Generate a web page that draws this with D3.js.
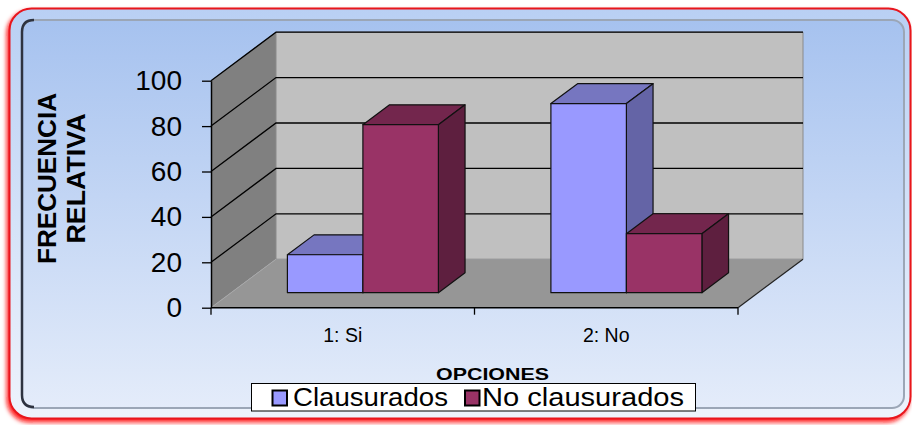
<!DOCTYPE html>
<html>
<head>
<meta charset="utf-8">
<script src="https://cdn.jsdelivr.net/npm/d3@7"></script>
<style>
html,body{margin:0;padding:0;background:#ffffff;}
svg{display:block;}
svg text{font-family:"Liberation Sans",Arial,sans-serif;}
</style>
</head>
<body>
<svg id="chart" width="912" height="425"></svg>
<script>
const categories = ["1: Si", "2: No"];
const seriesNames = ["Clausurados", "No clausurados"];
const clausurados = [16.7, 83.3];
const noClausurados = [74, 26];
const yTicks = [0, 20, 40, 60, 80, 100];
const yTitleLines = ["FRECUENCIA", "RELATIVA"];
const xTitle = "OPCIONES";

const seriesValues = [clausurados, noClausurados];
const faceColors = [
  {front: "#9999ff", top: "#7676c0", side: "#6464a6"},
  {front: "#993366", top: "#73264d", side: "#5e1f3f"}
];
const FONT = "'Liberation Sans', Arial, sans-serif";

const svg = d3.select("#chart");
const defs = svg.append("defs");

const g1 = defs.append("linearGradient").attr("id", "bg").attr("x1", 0).attr("y1", 0).attr("x2", 0).attr("y2", 1);
g1.append("stop").attr("offset", "0%").attr("stop-color", "#a6c2ef");
g1.append("stop").attr("offset", "100%").attr("stop-color", "#e4ecfa");
const g2 = defs.append("linearGradient").attr("id", "bg2").attr("x1", 0).attr("y1", 0).attr("x2", 0).attr("y2", 1);
g2.append("stop").attr("offset", "0%").attr("stop-color", "#b9d0f4");
g2.append("stop").attr("offset", "100%").attr("stop-color", "#eef3fc");
const f = defs.append("filter").attr("id", "redglow").attr("x", "-5%").attr("y", "-5%").attr("width", "110%").attr("height", "115%");
f.append("feDropShadow").attr("dx", -2).attr("dy", 3).attr("stdDeviation", 2).attr("flood-color", "#ff1010").attr("flood-opacity", 0.9);

// frame
svg.append("rect").attr("x", 9.5).attr("y", 8.5).attr("width", 901).attr("height", 410)
  .attr("rx", 22).attr("ry", 22).attr("fill", "url(#bg2)").attr("stroke", "#e8141c").attr("stroke-width", 2)
  .attr("filter", "url(#redglow)");
svg.append("rect").attr("x", 22).attr("y", 20).attr("width", 882).attr("height", 388)
  .attr("rx", 12).attr("ry", 12).attr("fill", "url(#bg)").attr("stroke", "#9ba6b6").attr("stroke-width", 2);
svg.append("path").attr("d", "M34,407 Q22,407 22,395 L22,32 Q22,20 34,20")
  .attr("fill", "none").attr("stroke", "#2e3340").attr("stroke-width", 2.5);

// scales
const y = d3.scaleLinear().domain([0, 100]).range([307.7, 80.7]);
const x = d3.scaleBand().domain(categories).range([211, 738]);
const xs = d3.scaleBand().domain(seriesNames).range([0, x.bandwidth()]).paddingOuter(0.745);
const depthX = 65, depthY = -48.5;
const barD0 = 0.31, barD1 = 0.72;

const x0 = x.range()[0], x1 = x.range()[1];
const yb = y(0), yt = y(100);

const walls = svg.append("g");
walls.append("polygon").attr("points", [[x0, yb], [x0 + depthX, yb + depthY], [x0 + depthX, yt + depthY], [x0, yt]].join(" "))
  .attr("fill", "#808080");
walls.append("polygon").attr("points", [[x0 + depthX, yb + depthY], [x1 + depthX, yb + depthY], [x1 + depthX, yt + depthY], [x0 + depthX, yt + depthY]].join(" "))
  .attr("fill", "#c0c0c0").attr("stroke", "#8a8a8a").attr("stroke-width", 1);
walls.append("polygon").attr("points", [[x0, yb], [x1, yb], [x1 + depthX, yb + depthY], [x0 + depthX, yb + depthY]].join(" "))
  .attr("fill", "#969696");
walls.append("line").attr("x1", x1).attr("y1", yb).attr("x2", x1 + depthX).attr("y2", yb + depthY)
  .attr("stroke", "#222").attr("stroke-width", 1.2);
walls.append("line").attr("x1", x0).attr("y1", yb).attr("x2", x0 + depthX).attr("y2", yb + depthY)
  .attr("stroke", "#a8a8a8").attr("stroke-width", 1);

const grid = svg.append("g");
yTicks.filter(t => t > 0).forEach(t => {
  grid.append("polyline").attr("points", [[x0, y(t)], [x0 + depthX, y(t) + depthY], [x1 + depthX, y(t) + depthY]].join(" "))
    .attr("fill", "none").attr("stroke", "#000").attr("stroke-width", 1.3);
});

// axes
const yAxis = svg.append("g").attr("transform", `translate(${x0},0)`)
  .call(d3.axisLeft(y).tickValues(yTicks).tickSize(9).tickPadding(20).tickSizeOuter(0));
yAxis.attr("font-family", FONT);
yAxis.select(".domain").attr("stroke", "#000").attr("stroke-width", 1.5);
yAxis.selectAll(".tick line").attr("stroke", "#000").attr("stroke-width", 1.3);
yAxis.selectAll(".tick text").attr("font-size", 28).attr("fill", "#000");

svg.append("line").attr("x1", x0).attr("x2", x1).attr("y1", yb).attr("y2", yb).attr("stroke", "#000").attr("stroke-width", 1.5);
const boundaries = [x0].concat(categories.map(c => x(c) + x.bandwidth()));
boundaries.forEach(b => {
  svg.append("line").attr("x1", b).attr("x2", b).attr("y1", yb).attr("y2", yb + 7).attr("stroke", "#000").attr("stroke-width", 1.3);
});
categories.forEach(c => {
  svg.append("text").attr("x", x(c) + x.bandwidth() / 2).attr("y", 341.7).attr("text-anchor", "middle")
    .attr("font-size", 19.5).attr("fill", "#000").text(c);
});

// bars
const bars = svg.append("g").attr("stroke", "#111").attr("stroke-width", 1.2).attr("stroke-linejoin", "round");
categories.forEach((c, ci) => {
  seriesNames.forEach((s, si) => {
    const v = seriesValues[si][ci];
    const col = faceColors[si];
    const ox = depthX * barD0, oy = depthY * barD0;
    const ddx = depthX * (barD1 - barD0), ddy = depthY * (barD1 - barD0);
    const L = x(c) + xs(s) + ox, R = L + xs.bandwidth();
    const B = y(0) + oy, T = y(v) + oy;
    bars.append("polygon").attr("points", [[L, T], [R, T], [R + ddx, T + ddy], [L + ddx, T + ddy]].join(" ")).attr("fill", col.top);
    bars.append("polygon").attr("points", [[R, T], [R + ddx, T + ddy], [R + ddx, B + ddy], [R, B]].join(" ")).attr("fill", col.side);
    bars.append("rect").attr("x", L).attr("y", T).attr("width", R - L).attr("height", B - T).attr("fill", col.front);
  });
});

// y title
const yTitleLen = [171, 130];
yTitleLines.forEach((t, i) => {
  svg.append("text").attr("transform", `translate(${i === 0 ? 55.5 : 85},178.5) rotate(-90)`)
    .attr("text-anchor", "middle").attr("font-size", 26).attr("font-weight", "bold").attr("fill", "#000")
    .attr("textLength", yTitleLen[i]).attr("lengthAdjust", "spacingAndGlyphs").text(t);
});

// x title
svg.append("text").attr("x", 492.5).attr("y", 380).attr("text-anchor", "middle")
  .attr("font-size", 17).attr("font-weight", "bold").attr("fill", "#000")
  .attr("textLength", 113).attr("lengthAdjust", "spacingAndGlyphs").text(xTitle);

// legend
const leg = svg.append("g");
leg.append("rect").attr("x", 251.5).attr("y", 383.5).attr("width", 444).attr("height", 27.5).attr("fill", "#fff").attr("stroke", "#000").attr("stroke-width", 1);
const legX = [272.5, 465];
const legTextX = [293, 482];
const legTextLen = [155, 202];
seriesNames.forEach((s, i) => {
  leg.append("rect").attr("x", legX[i]).attr("y", 390.5).attr("width", 14.5).attr("height", 15)
    .attr("fill", faceColors[i].front).attr("stroke", "#000").attr("stroke-width", 2);
  leg.append("text").attr("x", legTextX[i]).attr("y", 405.5).attr("font-size", 26).attr("fill", "#000")
    .attr("textLength", legTextLen[i]).attr("lengthAdjust", "spacingAndGlyphs").text(s);
});
</script>
</body>
</html>
